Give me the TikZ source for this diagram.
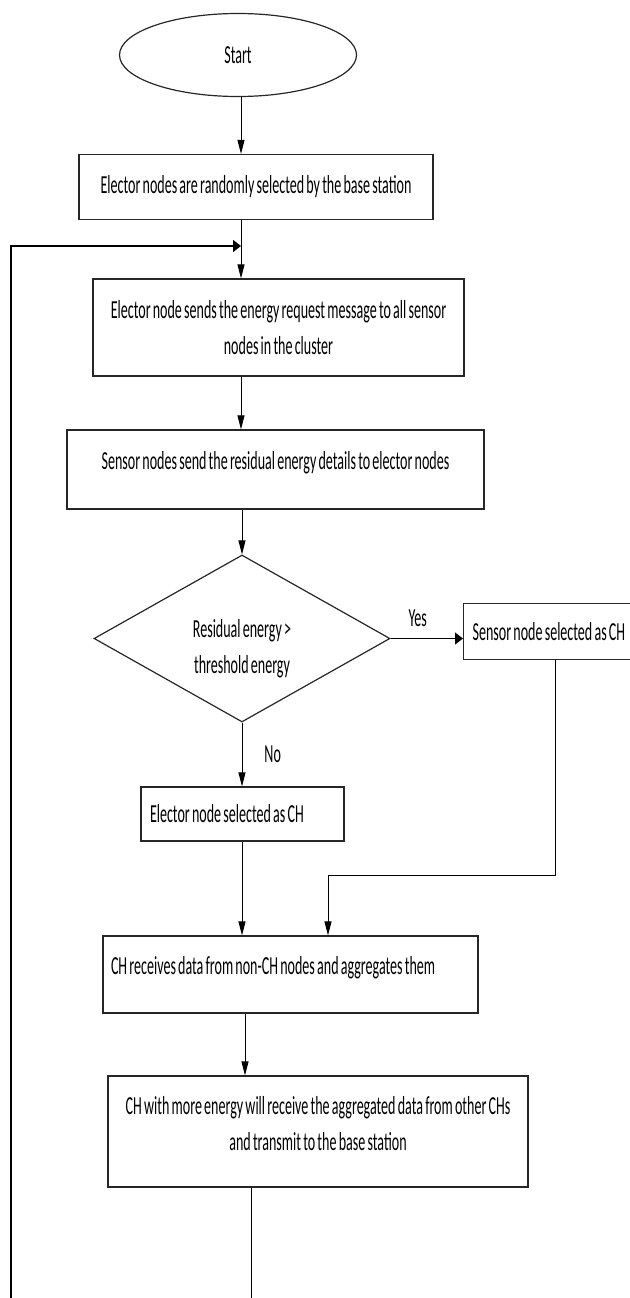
\documentclass[tikz,border=0pt]{standalone}
\usepackage{fontspec}
\setmainfont{Carlito}[FakeStretch=0.54, WordSpace=0.7]
\usetikzlibrary{arrows.meta,shapes.geometric}
\tikzset{
  stepbox/.style={draw=black!85, line width=1.2pt, inner sep=8pt},
  flow/.style={draw, line width=0.9pt, -{Triangle[length=14pt,width=7pt]}},
  flowside/.style={draw, line width=1.3pt, -{Triangle[length=8pt,width=12pt]}},
  plain/.style={draw, line width=0.9pt},
  tag/.style={inner sep=2pt},
}
\begin{document}
\begin{tikzpicture}[x=1pt, y=-1pt, font=\fontsize{26}{36}\selectfont]
        \useasboundingbox (0,0) rectangle (629,1298);
        % Nodes (top to bottom)
        \node (start) at (238,55) [ellipse, draw=black!85, line width=1.2pt, minimum width=237pt, minimum height=83pt] {Start};
        \node (elect) at (256,187) [stepbox, minimum width=354pt, minimum height=65pt] {Elector nodes are randomly selected by the base station};
        \node (request) at (278.5,327.5) [stepbox, align=center, minimum width=371pt, minimum height=97pt] {Elector node sends the energy request message to all sensor\\nodes in the cluster};
        \node (reply) at (275.5,469.5) [stepbox, minimum width=417pt, minimum height=79pt, text height=20pt, text depth=20pt] {Sensor nodes send the residual energy details to elector nodes};
        \node (check) at (242,638.5) [diamond, aspect=1.77, draw=black!85, line width=1.2pt, minimum width=296pt, minimum height=167pt, inner sep=0pt, align=center] {\rule{0pt}{38pt}Residual energy >\\threshold energy};
        \node (sensorch) at (463,631.5) [stepbox, anchor=west, text width=172pt, inner xsep=9pt, minimum height=56pt, align=flush left] {Sensor node selected as CH};
        \node (electch) at (242.5,814) [stepbox, text width=185pt, inner xsep=9pt, minimum height=54pt, align=flush left] {Elector node selected as CH};
        \node (aggregate) at (290.5,974.5) [stepbox, text width=359pt, minimum height=77pt, text height=20pt, text depth=20pt, align=flush left] {CH receives data from non-CH nodes and aggregates them};
        \node (forward) at (318,1131.5) [stepbox, align=center, minimum width=420pt, minimum height=111pt, text depth=17pt] {CH with more energy will receive the aggregated data from other CHs\\and transmit to the base station};
        % Helper points
        \coordinate (trunk) at (241,0);
        \coordinate (loopin) at (241,246);
        \coordinate (loopleft) at (11,246);
        \coordinate (loopend) at (11,1300);
        \coordinate (sidedrop) at (555,875);
        \coordinate (turn) at (328,875);
        \coordinate (mid) at (245,0);
        \coordinate (exit) at (251,1300);
        % Edges
        \draw[flow] (start.south -| trunk) -- (trunk |- elect.north);
        \draw[flow] (elect.south -| trunk) -- (trunk |- request.north);
        \draw[flowside] (loopend) -- (loopleft) -- (loopin);
        \draw[flow] (request.south -| trunk) -- (trunk |- reply.north);
        \draw[flow] (reply.south -| check.north) -- (check.north);
        \draw[flowside] (check.east) -- (check.east -| sensorch.west) node[tag, midway, above=9pt, xshift=-9pt] {Yes};
        \draw[flow] (check.south) -- (check.south |- electch.north) node[tag, midway, right=20pt] {No};
        \draw[flow] (electch.south -| check.south) -- (check.south |- aggregate.north);
        \draw[flow] (sensorch.south -| sidedrop) -- (sidedrop) -- (turn) -- (turn |- aggregate.north);
        \draw[flow] (aggregate.south -| mid) -- (mid |- forward.north);
        \draw[plain] (forward.south -| exit) -- (exit);
      \end{tikzpicture}
\end{document}
